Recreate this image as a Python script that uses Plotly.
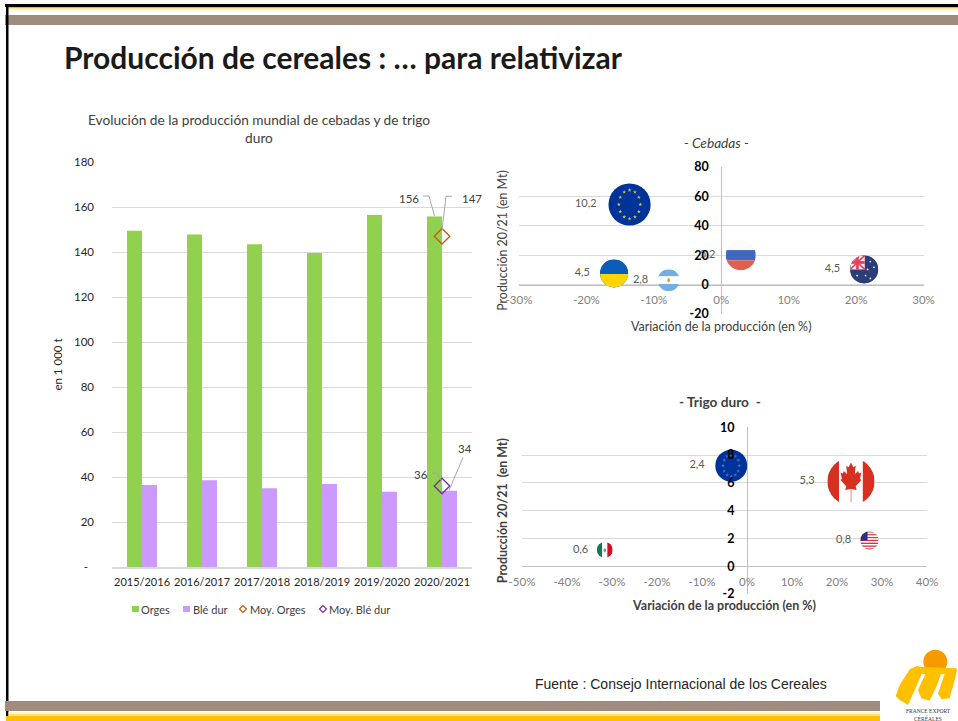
import base64
import math
import plotly.graph_objects as go

W, H = 958, 721

# ---------- data ----------
campaigns = ["2015/2016", "2016/2017", "2017/2018", "2018/2019", "2019/2020", "2020/2021"]
orges = [149.4, 147.8, 143.5, 139.6, 156.4, 155.8]
ble_dur = [36.5, 38.6, 35.0, 36.9, 33.4, 33.9]
moy_orges = [147]
moy_ble_dur = [36]
bar_ticks = [0, 20, 40, 60, 80, 100, 120, 140, 160, 180]
bar_ticktext = ["-\u00a0\u00a0", "20", "40", "60", "80", "100", "120", "140", "160", "180"]

ceb_names = ["ue", "ukraine", "argentina", "russia", "australia"]
ceb_var = [-13.6, -15.9, -7.8, 2.9, 21.2]
ceb_prod = [54.5, 7.6, 3.0, 20.0, 10.3]
ceb_size = [10.2, 4.5, 2.8, 5.2, 4.5]
ceb_labels = ["10,2", "4,5", "2,8", "5,2", "4,5"]
ceb_xticks = [-30, -20, -10, 0, 10, 20, 30]
ceb_xtext = ["-30%", "-20%", "-10%", "0%", "10%", "20%", "30%"]
ceb_yticks = [-20, 0, 20, 40, 60, 80]
ceb_ytext = ["-20", "0", "20", "40", "60", "80"]

tri_names = ["ue", "canada", "usa", "mexico"]
tri_var = [-3.5, 23.1, 27.2, -31.6]
tri_prod = [7.24, 6.1, 1.85, 1.17]
tri_size = [2.4, 5.3, 0.8, 0.6]
tri_labels = ["2,4", "5,3", "0,8", "0,6"]
tri_xticks = [-50, -40, -30, -20, -10, 0, 10, 20, 30, 40]
tri_xtext = ["-50%", "-40%", "-30%", "-20%", "-10%", "0%", "10%", "20%", "30%", "40%"]
tri_yticks = [-2, 0, 2, 4, 6, 8, 10]
tri_ytext = ["-2", "0", "2", "4", "6", "8", "10"]

# ---------- style ----------
FONT = "Lato"
GRID = "#d9d9d9"
AXIS = "#bfbfbf"
GREEN, PURPLE = "#92D050", "#CC99FF"
BROWN, VIOLET = "#C55A11", "#7030A0"
BASE_COLOR = {"ue": "#003399", "ukraine": "#0A5CB8", "argentina": "#FFFFFF", "russia": "#FBFBFB",
              "australia": "#2C3E78", "canada": "#FFFFFF", "usa": "#FFFFFF", "mexico": "#FFFFFF"}


def px(x):
    return x / W


def py(y):
    return 1 - y / H


def svg_uri(body):
    svg = ('<svg xmlns="http://www.w3.org/2000/svg" viewBox="0 0 100 100" width="200" height="200">'
           '<defs><clipPath id="c"><circle cx="50" cy="50" r="50"/></clipPath></defs>'
           f'<g clip-path="url(#c)">{body}</g></svg>')
    return "data:image/svg+xml;base64," + base64.b64encode(svg.encode()).decode()


def r(x, y, w, h, c, extra=""):
    return f'<rect x="{x}" y="{y}" width="{w}" height="{h}" fill="{c}" {extra}/>'


leaf = ("50,10 55,20 60,17 58,35 65,28 67,33 72,31 69,44 72,47 60,60 62,68 51,66 "
        "49,66 38,68 40,60 28,47 31,44 28,31 33,33 35,28 42,35 40,17 45,20")
stripes = "".join(r(0, i * 100 / 13, 100, 100 / 13, "#D8343F" if i % 2 == 0 else "#FFFFFF") for i in range(13))
FLAGS = {
    "ukraine": r(0, 0, 100, 52, "#0A5CB8") + r(0, 52, 100, 48, "#FFD500"),
    "argentina": r(0, 0, 100, 33, "#75AEE3") + r(0, 33, 100, 34, "#FFFFFF") + r(0, 67, 100, 33, "#75AEE3")
    + '<ellipse cx="50" cy="50" rx="6" ry="11" fill="#D9A441"/>',
    "russia": r(0, 0, 100, 33, "#FBFBFB") + r(0, 33, 100, 34, "#3F68BE") + r(0, 67, 100, 33, "#E0604F"),
    "australia": r(0, 0, 100, 100, "#2C3E78") + r(0, 0, 52, 50, "#F3F3F7")
    + '<path d="M0 0L52 50M52 0L0 50" stroke="#E8415F" stroke-width="6"/>'
    + r(21, 0, 10, 50, "#E8415F") + r(0, 20, 52, 10, "#E8415F")
    + "".join(f'<circle cx="{a}" cy="{b}" r="3" fill="#fff"/>' for a, b in
              [(25, 72), (72, 22), (85, 42), (62, 50), (72, 82), (55, 72)]),
    "canada": r(0, 0, 25, 100, "#D83020") + r(25, 0, 50, 100, "#FFFFFF") + r(75, 0, 25, 100, "#D83020")
    + f'<polygon points="{leaf}" fill="#D83020"/>' + r(49, 66, 2.5, 27, "#EE9A90"),
    "usa": stripes + r(0, 0, 40, 50, "#2A2F85"),
    "mexico": r(0, 0, 34, 100, "#117A52") + r(34, 0, 32, 100, "#FFFFFF") + r(66, 0, 34, 100, "#CE1126")
    + '<ellipse cx="50" cy="52" rx="8" ry="13" fill="#A58A62"/>',
}

# pixel boxes of the three plots: x0, x1, y0, y1
BOX_BAR = (112, 472, 162, 567)
BOX_CEB = (519, 923.5, 167, 314)
BOX_TRI = (522, 927, 427.3, 594)
RANGE_CEB = ([-30, 30], [-20, 80])
RANGE_TRI = ([-50, 40], [-2, 10])
K_CEB, K_TRI = 6.6, 10.3   # bubble radius in px per sqrt(Mt)

fig = go.Figure()

# ---------- bars ----------
fig.add_bar(x=campaigns, y=orges, name="Orges", marker_color=GREEN, xaxis="x", yaxis="y", showlegend=False)
fig.add_bar(x=campaigns, y=ble_dur, name="Blé dur", marker_color=PURPLE, xaxis="x", yaxis="y", showlegend=False)
fig.add_scatter(x=campaigns[-1:], y=moy_orges, name="Moy. Orges", mode="markers", xaxis="x", yaxis="y", showlegend=False,
                marker=dict(symbol="diamond-open", size=12, color=BROWN, line=dict(width=1.3, color=BROWN)))
fig.add_scatter(x=campaigns[-1:], y=moy_ble_dur, name="Moy. Blé dur", mode="markers", xaxis="x", yaxis="y", showlegend=False,
                marker=dict(symbol="diamond-open", size=12, color=VIOLET, line=dict(width=1.3, color=VIOLET)))

images = []


def add_bubbles(names, xs, ys, sizes, labels, k, box, ranges, xa, ya):
    sx = (box[1] - box[0]) / (ranges[0][1] - ranges[0][0])
    sy = (box[3] - box[2]) / (ranges[1][1] - ranges[1][0])
    diam = [2 * k * math.sqrt(s) for s in sizes]
    fig.add_scatter(
        x=xs, y=ys, mode="markers+text", xaxis=xa, yaxis=ya, showlegend=False,
        text=[t + "\u00a0\u00a0" for t in labels], textposition="middle left",
        textfont=dict(family=FONT, size=11, color="#595959"),
        marker=dict(size=diam, color=[BASE_COLOR[n] for n in names], opacity=1, line=dict(width=0)),
    )
    for n, x, y, d in zip(names, xs, ys, diam):
        if n == "ue":
            ring = d * 0.34
            sxs = [x + 0.75 * ring * math.cos(math.radians(a)) / sx for a in range(0, 360, 30)]
            sys = [y + ring * math.sin(math.radians(a)) / sy for a in range(0, 360, 30)]
            col = "#C9C65A" if xa == "x2" else "#4C6FC0"
            fig.add_scatter(x=sxs, y=sys, mode="markers", xaxis=xa, yaxis=ya, showlegend=False,
                            marker=dict(symbol="star", size=3, color=col))
        else:
            images.append(dict(source=svg_uri(FLAGS[n]), xref=xa, yref=ya, x=x, y=y,
                               sizex=d / sx, sizey=d / sy, xanchor="center", yanchor="middle",
                               sizing="stretch", layer="above"))


add_bubbles(ceb_names, ceb_var, ceb_prod, ceb_size, ceb_labels, K_CEB, BOX_CEB, RANGE_CEB, "x2", "y2")
add_bubbles(tri_names, tri_var, tri_prod, tri_size, tri_labels, K_TRI, BOX_TRI, RANGE_TRI, "x3", "y3")


def scatter_axes(box, ranges, xt, xtxt, yt, ytxt, xtitle, ytitle, bold, x_standoff, y_standoff):
    x0 = box[0] + (0 - ranges[0][0]) / (ranges[0][1] - ranges[0][0]) * (box[1] - box[0])
    y0 = box[3] - (0 - ranges[1][0]) / (ranges[1][1] - ranges[1][0]) * (box[3] - box[2])
    w = 700 if bold else 400
    xa = dict(domain=[px(box[0]), px(box[1])], range=ranges[0], anchor="free", position=py(y0), automargin=False,
              showgrid=False, zeroline=False, showline=True, linecolor=AXIS, linewidth=1,
              tickvals=xt, ticktext=xtxt, ticks="", tickangle=0, ticklabelstandoff=5,
              tickfont=dict(family=FONT, size=11.5, color="#808080"),
              title=dict(text=xtitle, standoff=x_standoff, font=dict(family=FONT, size=12.5, color="#404040", weight=w)))
    ya = dict(domain=[py(box[3]), py(box[2])], range=ranges[1], anchor="free", position=px(x0), automargin=False,
              showgrid=True, gridcolor=GRID, gridwidth=1, zeroline=False, showline=True, linecolor=AXIS, linewidth=1,
              tickvals=yt, ticktext=ytxt, ticks="", ticklabelstandoff=10,
              tickfont=dict(family=FONT, size=12.5, color="#000000", weight=700),
              title=dict(text=ytitle, standoff=y_standoff, font=dict(family=FONT, size=12.4, color="#404040", weight=w)))
    return xa, ya


xa2, ya2 = scatter_axes(BOX_CEB, RANGE_CEB, ceb_xticks, ceb_xtext, ceb_yticks, ceb_ytext,
                        "Variación de la producción (en %)", "Producción 20/21 (en Mt)", False, 16, 178)
xa3, ya3 = scatter_axes(BOX_TRI, RANGE_TRI, tri_xticks, tri_xtext, tri_yticks, tri_ytext,
                        "Variación de la producción (en %)", "Producción 20/21  (en Mt)", True, 14, 208)


# ---------- decoration shapes ----------
def rect(x0, y0, x1, y1, color, layer="below"):
    return dict(type="rect", xref="paper", yref="paper", x0=px(x0), x1=px(x1), y0=py(y0), y1=py(y1),
                fillcolor=color, line=dict(width=0), layer=layer)


def poly(points, color):
    d = "M" + "L".join(f"{px(a)},{py(b)}" for a, b in points) + "Z"
    return dict(type="path", xref="paper", yref="paper", path=d, fillcolor=color, line=dict(width=0), layer="above")


def logo_pts(pts):
    return [(858 + a / 3, 640 + b / 3) for a, b in pts]


def leader(category, value, offsets):
    d = "M" + "L".join(f"{a},{b}" for a, b in offsets)
    return dict(type="path", xref="x", yref="y", xsizemode="pixel", ysizemode="pixel",
                xanchor=category, yanchor=value, path=d, line=dict(color="#a6a6a6", width=1), layer="above")


last = campaigns[-1]
shapes = [
    rect(5, 4, W, 7, "#000000"), rect(7, 7, W, 8.5, "#F5B800"), rect(7, 8.5, W, 10.5, "#FFF4C0"),
    rect(5, 15, W, 25, "#A08C7D"),
    rect(6, 4, 8.5, H, "#000000"),
    rect(5, 701, 880, 711, "#A08C7D"),
    rect(8.5, 712, 880, 714, "#FFF6D0"), rect(8.5, 714, 880, 716, "#FFE27A"), rect(6, 716, 880, H, "#FFC000"),
    leader(last, 156, [(-19, 20), (-13, 20), (-7.5, 0)]),
    leader(last, 147, [(10, 40), (4, 40), (0, 6)]),
    leader(last, 36, [(-10, 13), (-5, 13), (-1, 6)]),
    leader(last, 34, [(21, 33), (7, 0)]),
    rect(132, 606, 139, 612, GREEN), rect(183, 606, 190, 612, PURPLE),
    dict(type="circle", xref="paper", yref="paper", x0=px(923.3), x1=px(947.3), y0=py(673.7), y1=py(649.7),
         fillcolor="#F59B00", line=dict(width=0), layer="above"),
    poly(logo_pts([(113, 168), (125, 135), (155, 88), (178, 78), (195, 82), (190, 105), (170, 150), (150, 195), (125, 180)]), "#FFC000"),
    poly(logo_pts([(180, 150), (205, 95), (225, 88), (245, 85), (250, 100), (235, 140), (215, 182), (190, 175)]), "#FFC000"),
    poly(logo_pts([(240, 160), (262, 95), (280, 85), (298, 88), (290, 120), (275, 175), (250, 178)]), "#FFC000"),
    poly(logo_pts([(170, 80), (295, 85), (292, 102), (250, 102), (245, 95), (205, 102), (190, 102)]), "#FFC000"),
]
for cx, col in ((243, BROWN), (323, VIOLET)):
    shapes.append(dict(type="path", xref="paper", yref="paper", line=dict(color=col, width=1.2),
                       path=f"M{px(cx-3.5)},{py(609)}L{px(cx)},{py(605.5)}L{px(cx+3.5)},{py(609)}L{px(cx)},{py(612.5)}Z"))


def text(x, y, s, size=12, color="#404040", anchor="center", family=FONT, **kw):
    return dict(xref="paper", yref="paper", x=px(x), y=py(y), text=s, showarrow=False, xanchor=anchor, yanchor="middle",
                font=dict(family=family, size=size, color=color), **kw)


def bar_label(value, s, dx, dy):
    return dict(xref="x", yref="y", x=last, y=value, text=s, showarrow=False, xshift=dx, yshift=dy,
                font=dict(family=FONT, size=11.5, color="#404040"))


annotations = [
    text(259, 128.5, "Evolución de la producción mundial de cebadas y de trigo<br>duro", size=13.7, color="#404040"),
    text(716.5, 142.5, "<i>- Cebadas -</i>", size=13.7),
    text(720, 401, "<b>- Trigo duro  -</b>", size=13.7),
    text(680.5, 684, "Fuente : Consejo Internacional de los Cereales", size=14, color="#262626", family="Liberation Sans"),
    text(928, 711, "FRANCE EXPORT", size=5.5, color="#333333", family="Liberation Serif"),
    text(928, 718, "CÉRÉALES", size=5.5, color="#333333", family="Liberation Serif"),
    text(139, 609, "Orges", size=11, anchor="left"), text(191, 609, "Blé dur", size=11, anchor="left"),
    text(248, 609, "Moy. Orges", size=11, anchor="left"), text(327, 609, "Moy. Blé dur", size=11, anchor="left"),
    bar_label(156, "156", -33, 18), bar_label(147, "147", 30, 38),
    bar_label(36, "36", -21, 12), bar_label(34, "34", 23, 42),
]

fig.update_layout(
    template="none",
    width=W, height=H, margin=dict(l=0, r=0, t=0, b=0, pad=0), autosize=False,
    paper_bgcolor="#ffffff", plot_bgcolor="rgba(0,0,0,0)", barmode="group", bargap=0.5, bargroupgap=0,
    font=dict(family=FONT, size=12, color="#404040"), hovermode=False,
    title=dict(text="<b>Producción de cereales : … para relativizar</b>", x=px(64), xanchor="left",
               y=py(58), yanchor="middle", xref="paper", yref="container",
               font=dict(family=FONT, size=30, color="#1a1a1a")),
    xaxis=dict(domain=[px(BOX_BAR[0]), px(BOX_BAR[1])], type="category", categoryorder="array", categoryarray=campaigns,
               range=[-0.5, 5.5], anchor="y", automargin=False, showgrid=False, zeroline=False, showline=True, linecolor=GRID, linewidth=1.5, ticks="",
               tickangle=0, ticklabelstandoff=4, tickfont=dict(family=FONT, size=11, color="#262626")),
    yaxis=dict(domain=[py(BOX_BAR[3]), py(BOX_BAR[2])], range=[0, 180], anchor="x", automargin=False, tickvals=bar_ticks, ticktext=bar_ticktext,
               showgrid=True, gridcolor=GRID, gridwidth=1, zeroline=False, ticks="", ticklabelstandoff=17,
               tickfont=dict(family=FONT, size=11.5, color="#262626"),
               title=dict(text="en 1 000 t", standoff=8, font=dict(family=FONT, size=11.5, color="#262626"))),
    xaxis2=xa2, yaxis2=ya2, xaxis3=xa3, yaxis3=ya3,
    shapes=shapes, annotations=annotations, images=images, showlegend=False,
)

fig.write_html("out.html", config=dict(displayModeBar=False),
               post_script="document.body.style.margin='0';document.body.style.overflow='hidden';")
